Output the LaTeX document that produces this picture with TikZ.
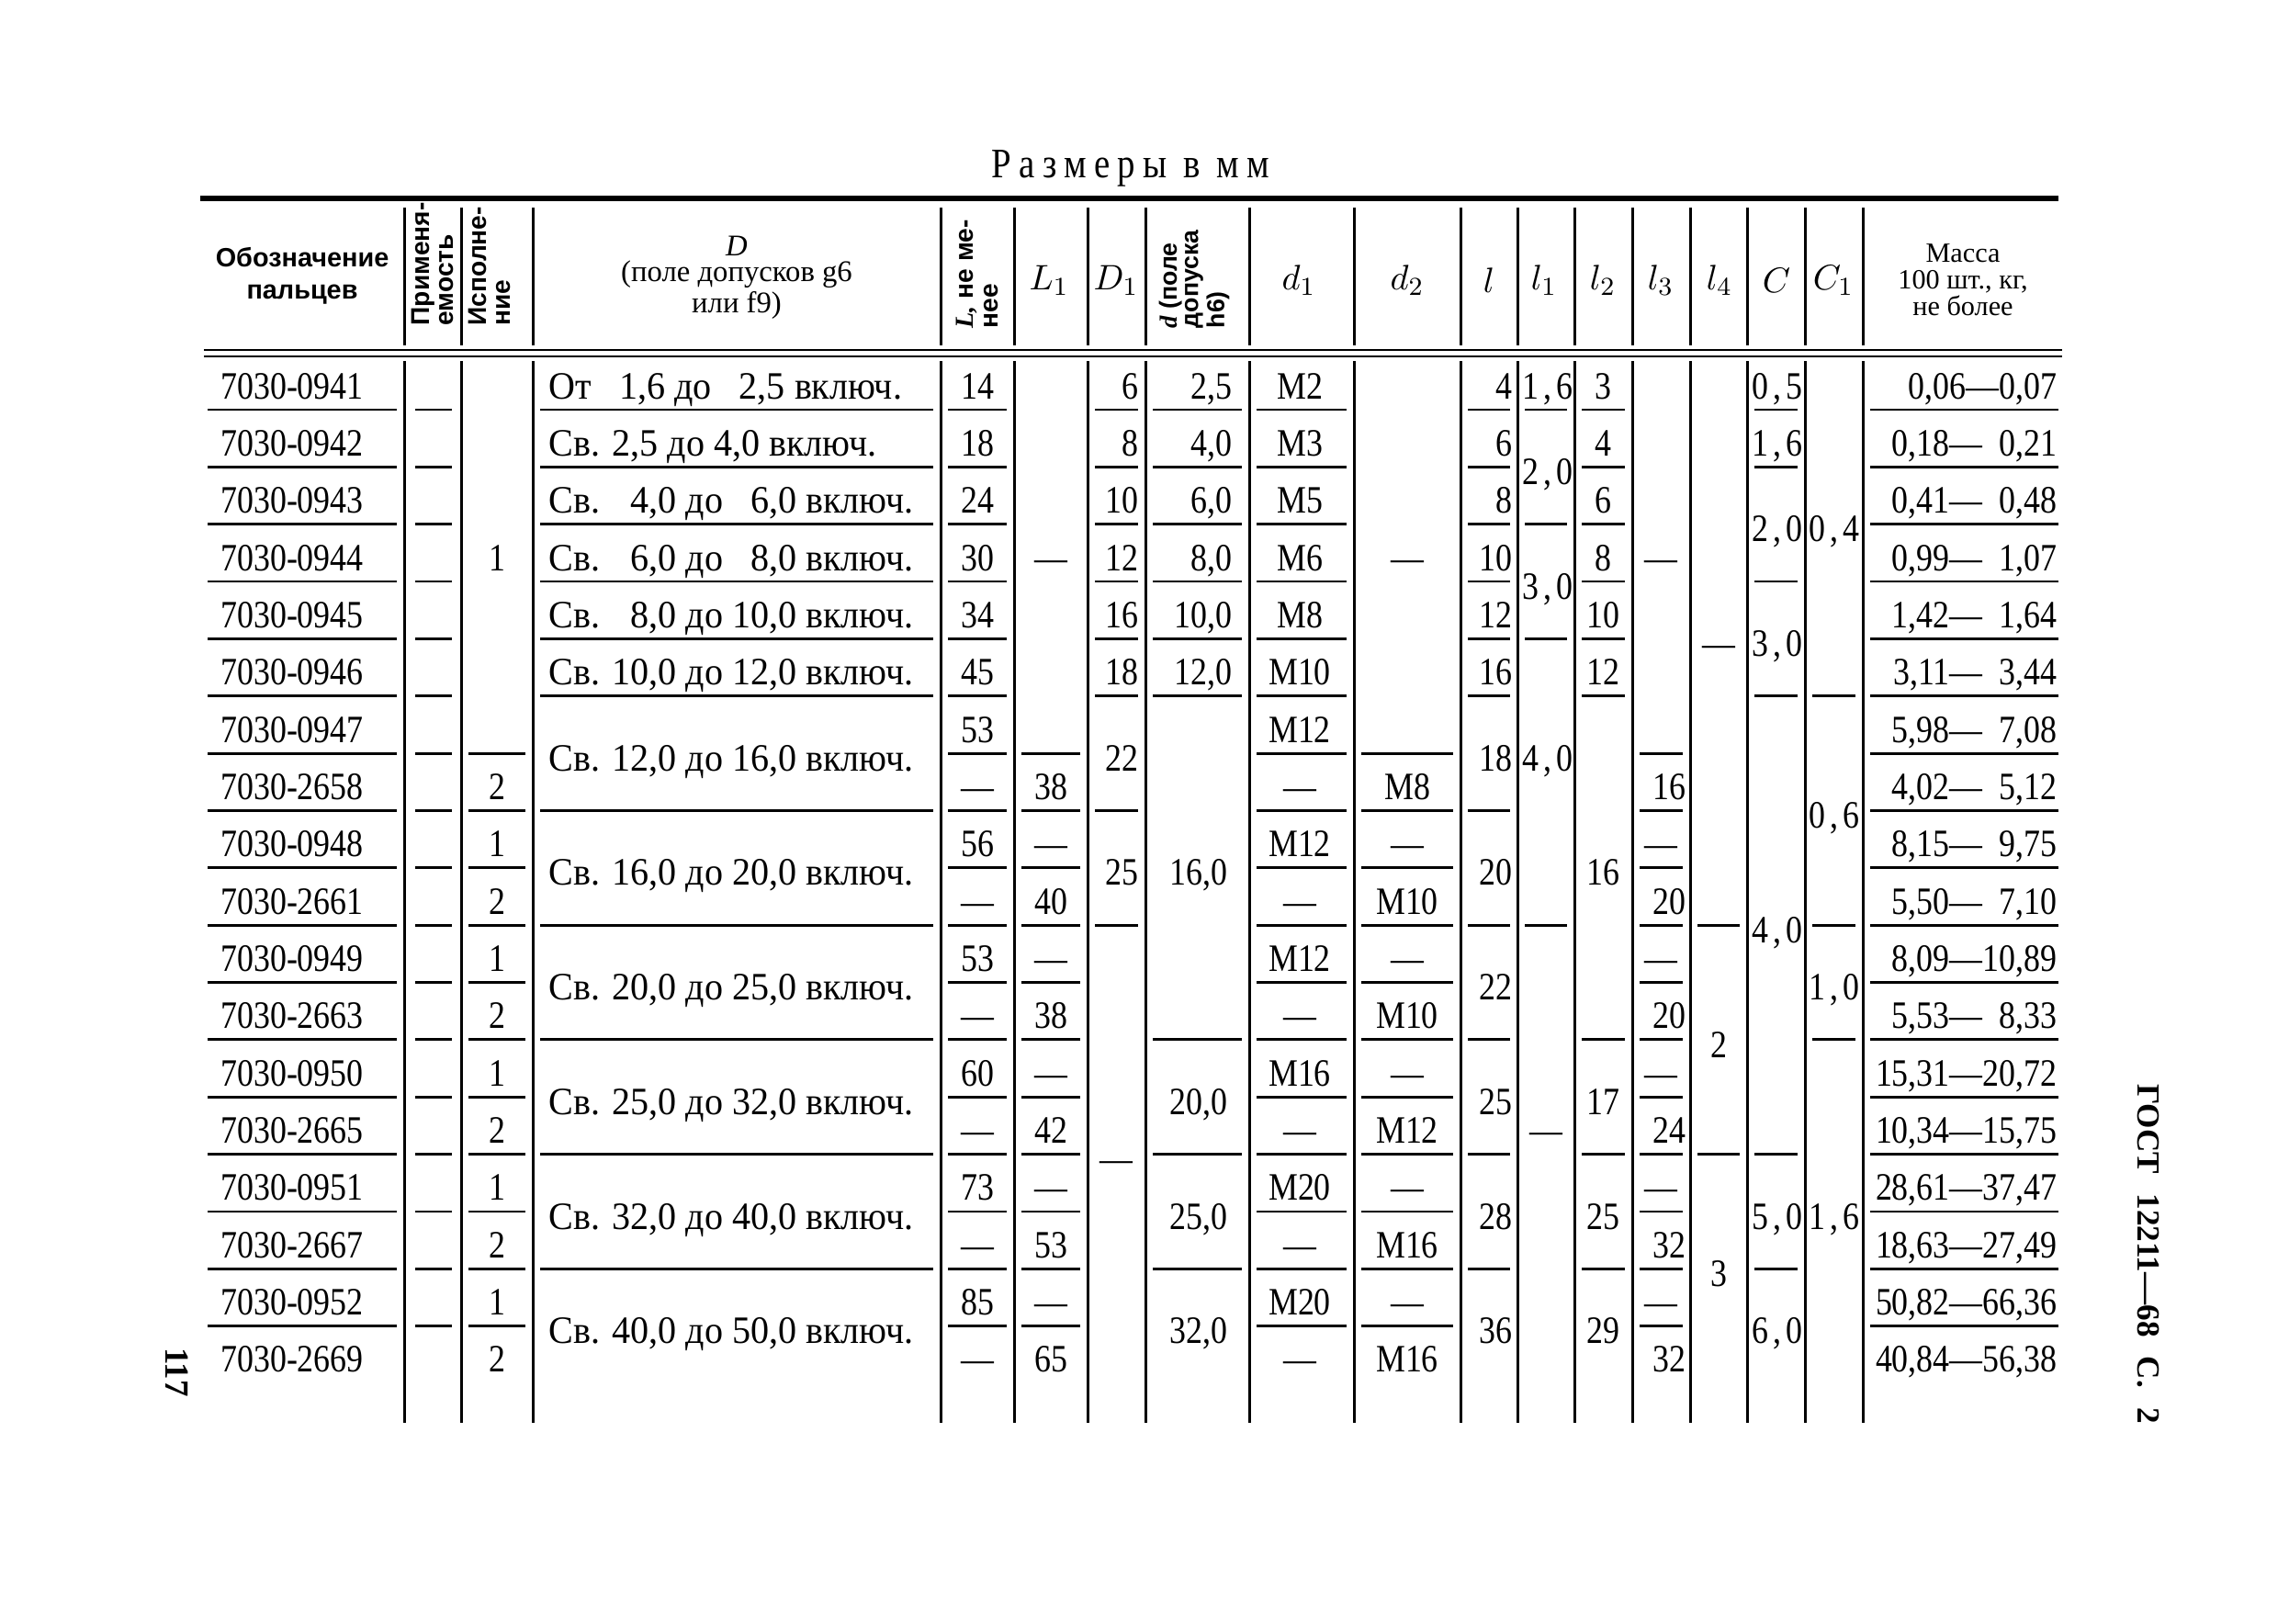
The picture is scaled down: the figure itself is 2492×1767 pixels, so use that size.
\documentclass[tikz,border=0pt]{standalone}
\usepackage{fontspec}
\setmainfont{Liberation Serif}[FakeStretch=0.85]
\newfontfamily\sprf{Liberation Serif}[FakeStretch=0.85,LetterSpace=12]
\newfontfamily\ttlf{Liberation Serif}[FakeStretch=0.85,LetterSpace=18]
\newfontfamily\dfont{Liberation Serif}[FakeStretch=0.95]
\newfontfamily\hsans{Liberation Sans}
\newfontfamily\pserif{Liberation Serif}
\newcommand\rb[1]{434+62.35*(#1)}
\newcommand\bd[1]{446+62.35*(#1)}
\newcommand\ulx[3]{\draw[ul] ({#1+8},{\bd{#3}}) -- ({#2-8},{\bd{#3}});}
\begin{document}
\begin{tikzpicture}[x=0.01cm,y=-0.01cm,
  val/.style={anchor=base,inner sep=0pt,font=\fontsize{12}{14}\selectfont},
  vale/.style={val,anchor=base east},
  valw/.style={val,anchor=base west,font=\fontsize{12}{14}\dfont},
  spv/.style={val,font=\fontsize{12}{14}\sprf},
  ul/.style={line width=0.8pt},
  vl/.style={line width=0.85pt},
  hd/.style={inner sep=0pt,align=center},
  sym/.style={inner sep=0pt,font=\fontsize{11}{12}\selectfont},
  rot/.style={inner sep=0pt,rotate=90,anchor=west,align=left,font=\fontsize{8}{7.6}\hsans\bfseries},
]
\useasboundingbox (0,0) rectangle (2492,1767);
\fill[white] (0,0) rectangle (2492,1767);

% title
\node[inner sep=0pt,font=\fontsize{13}{15}\ttlf] (title) at (1231,183) {Размеры в мм};

% rules
\draw[line width=1.8pt] (218,216) -- (2241,216);
\draw[line width=0.8pt] (222,381) -- (2245,381);
\draw[line width=0.8pt] (222,388) -- (2245,388);

% vertical lines
\foreach \x in {440,502,580,1024,1104,1184,1247,1360,1474,1590,1652,1714,1777,1840,1902,1965,2028} {
  \draw[vl] (\x,226) -- (\x,376);
  \draw[vl] (\x,393) -- (\x,1549);
}

% header
\node[inner sep=0pt,align=center,font=\fontsize{8.2}{10}\hsans\bfseries] (hObz) at (329,300) {Обозначение\\пальцев};
\node[rot] (hPrim) at (471,355) {Применя-\\емость};
\node[rot] (hIsp) at (533,355) {Исполне-\\ние};
\node[hd,font=\fontsize{9.3}{7.4}\pserif] (hD) at (802,302) {\itshape D\\[0.6pt](поле допусков g6\\или f9)};
\node[rot] (hL) at (1064,358) {\pserif\itshape L,\hsans\upshape\ не ме-\\нее};
\node[sym] (hL1) at (1142,305) {$L_1$};
\node[sym] (hDD1) at (1215,305) {$D_1$};
\node[rot,font=\fontsize{7.6}{6.6}\hsans\bfseries] (hd) at (1300,358) {\pserif\itshape d\hsans\upshape\ (поле\\допуска\\h6)};
\node[sym] (hd1) at (1414,305) {$d_1$};
\node[sym] (hd2) at (1532,305) {$d_2$};
\node[sym] (hl) at (1621,305) {$l$};
\node[sym] (hl1) at (1681,305) {$l_1$};
\node[sym] (hl2) at (1745,305) {$l_2$};
\node[sym] (hl3) at (1808,305) {$l_3$};
\node[sym] (hl4) at (1872,305) {$l_4$};
\node[sym] (hC) at (1934,305) {$C$};
\node[sym] (hC1) at (1996,305) {$C_1$};
\node[hd,font=\fontsize{8.6}{8.2}\pserif] (hM) at (2137,305) {Масса\\100 шт., кг,\\не более};

% column 1: designations
\foreach \t [count=\i from 0] in {0941,0942,0943,0944,0945,0946,0947,2658,0948,2661,0949,2663,0950,2665,0951,2667,0952,2669}
  \node[val] (des\i) at (318,{\rb{\i}}) {7030-\t};

% underlines for full columns
\foreach \r in {0,...,16} {
  \ulx{218}{440}{\r}
  \draw[ul] (452,{\bd{\r}}) -- (492,{\bd{\r}});
  \ulx{1024}{1104}{\r}
  \ulx{1360}{1474}{\r}
  \ulx{2028}{2249}{\r}
}

% column 3: execution
\node[val] (isp0) at (541,{\rb{3}}) {1};
\foreach \v [count=\i from 7] in {2,1,2,1,2,1,2,1,2,1,2}
  \node[val] (isp\i) at (541,{\rb{\i}}) {\v};
\foreach \r in {6,...,16} {\ulx{502}{580}{\r}}

% column 4: D
\node[valw] (D0) at (597,{\rb{0}}) {От \hphantom{0}1,6 до \hphantom{0}2,5 включ.};
\node[valw] (D1) at (597,{\rb{1}}) {Св. 2,5 до 4,0 включ.};
\node[valw] (D2) at (597,{\rb{2}}) {Св. \hphantom{0}4,0 до \hphantom{0}6,0 включ.};
\node[valw] (D3) at (597,{\rb{3}}) {Св. \hphantom{0}6,0 до \hphantom{0}8,0 включ.};
\node[valw] (D4) at (597,{\rb{4}}) {Св. \hphantom{0}8,0 до 10,0 включ.};
\node[valw] (D5) at (597,{\rb{5}}) {Св. 10,0 до 12,0 включ.};
\node[valw] (D6) at (597,{\rb{6.5}}) {Св. 12,0 до 16,0 включ.};
\node[valw] (D8) at (597,{\rb{8.5}}) {Св. 16,0 до 20,0 включ.};
\node[valw] (D10) at (597,{\rb{10.5}}) {Св. 20,0 до 25,0 включ.};
\node[valw] (D12) at (597,{\rb{12.5}}) {Св. 25,0 до 32,0 включ.};
\node[valw] (D14) at (597,{\rb{14.5}}) {Св. 32,0 до 40,0 включ.};
\node[valw] (D16) at (597,{\rb{16.5}}) {Св. 40,0 до 50,0 включ.};
\foreach \r in {0,...,5,7,9,11,13,15} {\ulx{580}{1024}{\r}}

% column 5: L
\foreach \v [count=\i from 0] in {14,18,24,30,34,45,53,—,56,—,53,—,60,—,73,—,85,—}
  \node[val] (L\i) at (1064,{\rb{\i}}) {\v};

% column 6: L1
\node[val] (La0) at (1144,{\rb{3}}) {—};
\foreach \v [count=\i from 7] in {38,—,40,—,38,—,42,—,53,—,65}
  \node[val] (La\i) at (1144,{\rb{\i}}) {\v};
\foreach \r in {6,...,16} {\ulx{1104}{1184}{\r}}

% column 7: D1
\foreach \v [count=\i from 0] in {6,8,10,12,16,18}
  \node[vale] (Db\i) at (1240,{\rb{\i}}) {\v};
\node[vale] (Db6) at (1240,{\rb{6.5}}) {22};
\node[vale] (Db8) at (1240,{\rb{8.5}}) {25};
\node[val] (Db10) at (1215,{\rb{13.5}}) {—};
\foreach \r in {0,...,5,7,9} {\ulx{1184}{1247}{\r}}

% column 8: d
\foreach \v [count=\i from 0] in {{2,5},{4,0},{6,0},{8,0},{10,0},{12,0}}
  \node[vale] (dd\i) at (1342,{\rb{\i}}) {\v};
\node[val] (dd6) at (1305,{\rb{8.5}}) {16,0};
\node[val] (dd12) at (1305,{\rb{12.5}}) {20,0};
\node[val] (dd14) at (1305,{\rb{14.5}}) {25,0};
\node[val] (dd16) at (1305,{\rb{16.5}}) {32,0};
\foreach \r in {0,...,5,11,13,15} {\ulx{1247}{1360}{\r}}

% column 9: d1
\foreach \v [count=\i from 0] in {M2,M3,M5,M6,M8,M10,M12,—,M12,—,M12,—,M16,—,M20,—,M20,—}
  \node[val] (da\i) at (1415,{\rb{\i}}) {\v};

% column 10: d2
\node[val] (db0) at (1532,{\rb{3}}) {—};
\foreach \v [count=\i from 7] in {M8,—,M10,—,M10,—,M12,—,M16,—,M16}
  \node[val] (db\i) at (1532,{\rb{\i}}) {\v};
\foreach \r in {6,...,16} {\ulx{1474}{1590}{\r}}

% column 11: l
\foreach \v [count=\i from 0] in {4,6,8,10,12,16}
  \node[vale] (la\i) at (1647,{\rb{\i}}) {\v};
\node[vale] (la6) at (1647,{\rb{6.5}}) {18};
\node[vale] (la8) at (1647,{\rb{8.5}}) {20};
\node[vale] (la10) at (1647,{\rb{10.5}}) {22};
\node[vale] (la12) at (1647,{\rb{12.5}}) {25};
\node[vale] (la14) at (1647,{\rb{14.5}}) {28};
\node[vale] (la16) at (1647,{\rb{16.5}}) {36};
\foreach \r in {0,...,5,7,9,11,13,15} {\ulx{1590}{1652}{\r}}

% column 12: l1
\node[spv] (lb0) at (1685,{\rb{0}}) {1,6};
\node[spv] (lb1) at (1685,{\rb{1.5}}) {2,0};
\node[spv] (lb3) at (1685,{\rb{3.5}}) {3,0};
\node[spv] (lb5) at (1685,{\rb{6.5}}) {4,0};
\node[val] (lb10) at (1683,{\rb{13}}) {—};
\foreach \r in {0,2,4,9} {\ulx{1652}{1714}{\r}}

% column 13: l2
\foreach \v [count=\i from 0] in {3,4,6,8,10,12}
  \node[val] (lc\i) at (1745,{\rb{\i}}) {\v};
\node[val] (lc6) at (1745,{\rb{8.5}}) {16};
\node[val] (lc12) at (1745,{\rb{12.5}}) {17};
\node[val] (lc14) at (1745,{\rb{14.5}}) {25};
\node[val] (lc16) at (1745,{\rb{16.5}}) {29};
\foreach \r in {0,...,5,11,13,15} {\ulx{1714}{1777}{\r}}

% column 14: l3
\node[val] (ld0) at (1808,{\rb{3}}) {—};
\foreach \i/\v in {7/16,9/20,11/20,13/24,15/32,17/32}
  \node[vale] (ld\i) at (1836,{\rb{\i}}) {\v};
\foreach \i in {8,10,12,14,16}
  \node[val] (ld\i) at (1808,{\rb{\i}}) {—};
\foreach \r in {6,...,16} {\ulx{1777}{1840}{\r}}

% column 15: l4
\node[val] (le0) at (1871,{\rb{4.5}}) {—};
\node[val] (le10) at (1871,{\rb{11.5}}) {2};
\node[val] (le14) at (1871,{\rb{15.5}}) {3};
\foreach \r in {9,13} {\ulx{1840}{1902}{\r}}

% column 16: C
\node[spv] (ca0) at (1935,{\rb{0}}) {0,5};
\node[spv] (ca1) at (1935,{\rb{1}}) {1,6};
\node[spv] (ca2) at (1935,{\rb{2.5}}) {2,0};
\node[spv] (ca4) at (1935,{\rb{4.5}}) {3,0};
\node[spv] (ca6) at (1935,{\rb{9.5}}) {4,0};
\node[spv] (ca14) at (1935,{\rb{14.5}}) {5,0};
\node[spv] (ca16) at (1935,{\rb{16.5}}) {6,0};
\foreach \r in {0,1,3,5,13,15} {\ulx{1902}{1965}{\r}}

% column 17: C1
\node[spv] (cb0) at (1997,{\rb{2.5}}) {0,4};
\node[spv] (cb6) at (1997,{\rb{7.5}}) {0,6};
\node[spv] (cb10) at (1997,{\rb{10.5}}) {1,0};
\node[spv] (cb12) at (1997,{\rb{14.5}}) {1,6};
\foreach \r in {5,9,11} {\ulx{1965}{2028}{\r}}

% column 18: mass
\foreach \v [count=\i from 0] in {{0,06—0,07},{0,18—\hphantom{0}0,21},{0,41—\hphantom{0}0,48},{0,99—\hphantom{0}1,07},{1,42—\hphantom{0}1,64},{3,11—\hphantom{0}3,44},{5,98—\hphantom{0}7,08},{4,02—\hphantom{0}5,12},{8,15—\hphantom{0}9,75},{5,50—\hphantom{0}7,10},{8,09—10,89},{5,53—\hphantom{0}8,33},{15,31—20,72},{10,34—15,75},{28,61—37,47},{18,63—27,49},{50,82—66,36},{40,84—56,38}}
  \node[vale] (m\i) at (2240,{\rb{\i}}) {\v};

% side texts
\node[inner sep=0pt,rotate=-90,font=\fontsize{10.5}{12}\pserif\bfseries] (pg) at (193,1494) {117};
\node[inner sep=0pt,rotate=-90,font=\fontsize{10}{12}\pserif\bfseries] (gost) at (2339,1365) {ГОСТ\hspace{0.6em}12211—68\hspace{0.6em}С.\hspace{0.6em}2};
\end{tikzpicture}
\end{document}
